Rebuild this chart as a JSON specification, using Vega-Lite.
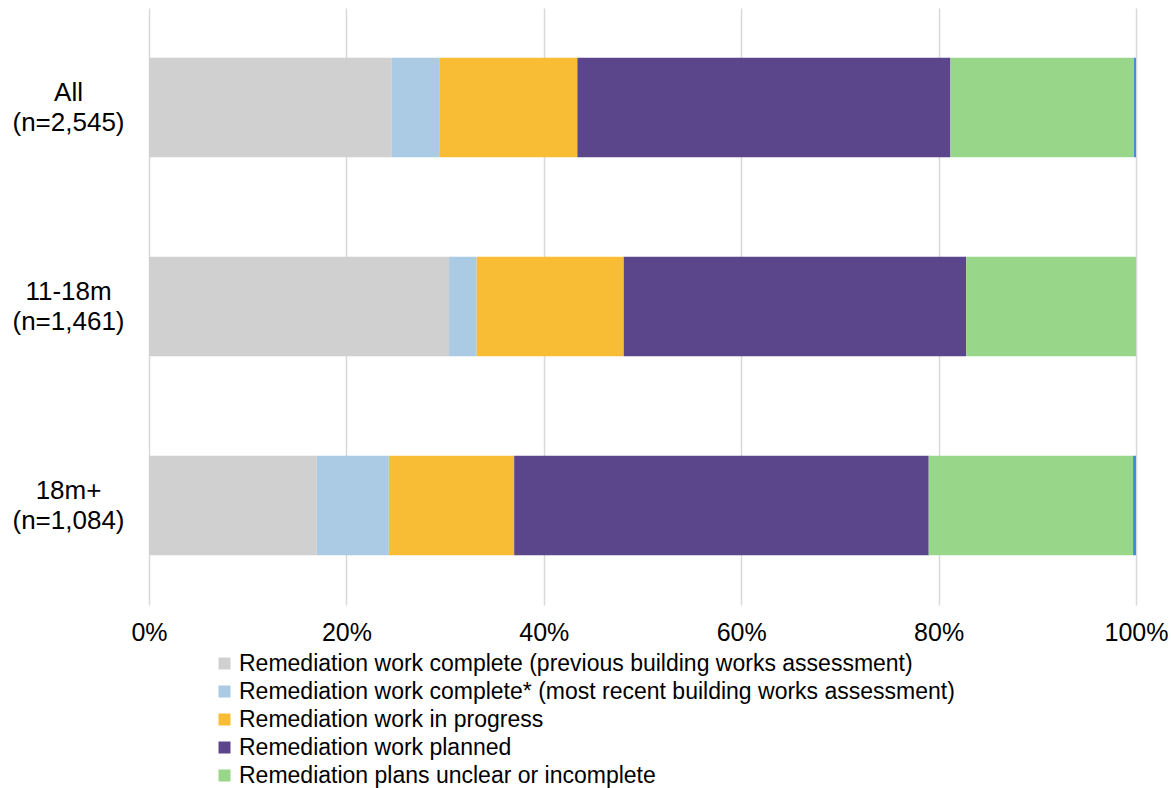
{
  "$schema": "https://vega.github.io/schema/vega-lite/v6.json",
  "width": 987,
  "height": 597,
  "autosize": {"type": "none"},
  "padding": {"left": 149, "top": 8, "right": 35, "bottom": 183},
  "background": "white",
  "config": {
    "view": {"stroke": null},
    "font": "Liberation Sans"
  },
  "data": {
    "values": [
      {"group": "All|(n=2,545)", "status": "Remediation work complete (previous building works assessment)", "k": 1, "pct": 24.6},
      {"group": "All|(n=2,545)", "status": "Remediation work complete* (most recent building works assessment)", "k": 2, "pct": 4.8},
      {"group": "All|(n=2,545)", "status": "Remediation work in progress", "k": 3, "pct": 14.0},
      {"group": "All|(n=2,545)", "status": "Remediation work planned", "k": 4, "pct": 37.8},
      {"group": "All|(n=2,545)", "status": "Remediation plans unclear or incomplete", "k": 5, "pct": 18.6},
      {"group": "All|(n=2,545)", "status": "Other", "k": 6, "pct": 0.2},
      {"group": "11-18m|(n=1,461)", "status": "Remediation work complete (previous building works assessment)", "k": 1, "pct": 30.4},
      {"group": "11-18m|(n=1,461)", "status": "Remediation work complete* (most recent building works assessment)", "k": 2, "pct": 2.8},
      {"group": "11-18m|(n=1,461)", "status": "Remediation work in progress", "k": 3, "pct": 14.9},
      {"group": "11-18m|(n=1,461)", "status": "Remediation work planned", "k": 4, "pct": 34.7},
      {"group": "11-18m|(n=1,461)", "status": "Remediation plans unclear or incomplete", "k": 5, "pct": 17.2},
      {"group": "18m+|(n=1,084)", "status": "Remediation work complete (previous building works assessment)", "k": 1, "pct": 17.0},
      {"group": "18m+|(n=1,084)", "status": "Remediation work complete* (most recent building works assessment)", "k": 2, "pct": 7.3},
      {"group": "18m+|(n=1,084)", "status": "Remediation work in progress", "k": 3, "pct": 12.7},
      {"group": "18m+|(n=1,084)", "status": "Remediation work planned", "k": 4, "pct": 42.0},
      {"group": "18m+|(n=1,084)", "status": "Remediation plans unclear or incomplete", "k": 5, "pct": 20.7},
      {"group": "18m+|(n=1,084)", "status": "Other", "k": 6, "pct": 0.3}
    ]
  },
  "mark": {"type": "bar"},
  "encoding": {
    "y": {
      "field": "group",
      "type": "nominal",
      "sort": null,
      "title": null,
      "scale": {"paddingInner": 0.5, "paddingOuter": 0.25},
      "axis": {
        "labelExpr": "split(datum.label, '|')",
        "labelAlign": "center",
        "labelBaseline": "middle",
        "labelPadding": 81,
        "labelOffset": -15,
        "labelLineHeight": 30,
        "labelFontSize": 26,
        "labelColor": "#000000",
        "ticks": false,
        "tickSize": 0,
        "domain": false,
        "grid": false
      }
    },
    "x": {
      "field": "pct",
      "type": "quantitative",
      "stack": "zero",
      "title": null,
      "scale": {"domain": [0, 100], "nice": false},
      "axis": {
        "values": [0, 20, 40, 60, 80, 100],
        "labelExpr": "datum.value + '%'",
        "labelFontSize": 25,
        "labelColor": "#000000",
        "labelPadding": 15,
        "ticks": false,
        "tickSize": 0,
        "domain": false,
        "grid": true,
        "gridColor": "#D9D9D9",
        "gridWidth": 1.5,
        "labelFlush": false
      }
    },
    "order": {"field": "k", "type": "quantitative"},
    "color": {
      "field": "status",
      "type": "nominal",
      "scale": {
        "domain": [
          "Remediation work complete (previous building works assessment)",
          "Remediation work complete* (most recent building works assessment)",
          "Remediation work in progress",
          "Remediation work planned",
          "Remediation plans unclear or incomplete",
          "Other"
        ],
        "range": ["#D0D0D0", "#ABCBE5", "#F9BC35", "#5B468B", "#98D68A", "#3F8FD8"]
      },
      "legend": {
        "values": [
          "Remediation work complete (previous building works assessment)",
          "Remediation work complete* (most recent building works assessment)",
          "Remediation work in progress",
          "Remediation work planned",
          "Remediation plans unclear or incomplete"
        ],
        "title": null,
        "orient": "none",
        "legendX": 64,
        "legendY": 644,
        "direction": "vertical",
        "symbolType": "square",
        "symbolSize": 144,
        "symbolStrokeWidth": 0,
        "labelFontSize": 23,
        "labelColor": "#000000",
        "labelOffset": 3,
        "labelLimit": 1000,
        "rowPadding": 4
      }
    }
  }
}
